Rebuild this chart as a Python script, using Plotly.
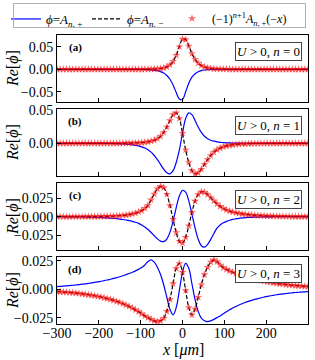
import plotly.graph_objects as go

# ---------------- data ----------------
x_um = [-300.0, -292.5, -285.0, -277.5, -270.0, -262.5, -255.0, -247.5, -240.0, -232.5,
        -225.0, -217.5, -210.0, -202.5, -195.0, -187.5, -180.0, -172.5, -165.0, -157.5,
        -150.0, -142.5, -135.0, -127.5, -120.0, -112.5, -105.0, -97.5, -90.0, -82.5,
        -75.0, -67.5, -60.0, -52.5, -45.0, -37.5, -30.0, -22.5, -15.0, -7.5,
        0.0, 7.5, 15.0, 22.5, 30.0, 37.5, 45.0, 52.5, 60.0, 67.5,
        75.0, 82.5, 90.0, 97.5, 105.0, 112.5, 120.0, 127.5, 135.0, 142.5,
        150.0, 157.5, 165.0, 172.5, 180.0, 187.5, 195.0, 202.5, 210.0, 217.5,
        225.0, 232.5, 240.0, 247.5, 255.0, 262.5, 270.0, 277.5, 285.0, 292.5, 300.0]

# n = 0
A0_plus = [0, 0, 0, 0, 0, 0, 0, 0, 0, 0,
           0, 0, 0, 0, 0, 0, 0, 0, 0, 0,
           0, 0, 0, 0, 0, -0.0001, -0.0002, -0.0003, -0.0004, -0.0007,
           -0.0011, -0.0019, -0.0031, -0.0051, -0.0084, -0.0138, -0.0222, -0.0350, -0.0516, -0.0660,
           -0.0670, -0.0501, -0.0310, -0.0176, -0.0098, -0.0054, -0.0030, -0.0016, -0.0009, -0.0005,
           -0.0003, -0.0001, -0.0001, 0, 0, 0, 0, 0, 0, 0,
           0, 0, 0, 0, 0, 0, 0, 0, 0, 0,
           0, 0, 0, 0, 0, 0, 0, 0, 0, 0, 0]
A0_minus = [0, 0, 0, 0, 0, 0, 0, 0, 0, 0,
            0, 0, 0, 0, 0, 0, 0, 0, 0, 0,
            0, 0, 0, 0, 0, 0, 0, 0, 0.0001, 0.0001,
            0.0003, 0.0005, 0.0009, 0.0016, 0.0030, 0.0054, 0.0098, 0.0176, 0.0310, 0.0501,
            0.0670, 0.0660, 0.0516, 0.0350, 0.0222, 0.0138, 0.0084, 0.0051, 0.0031, 0.0019,
            0.0011, 0.0007, 0.0004, 0.0003, 0.0002, 0.0001, 0, 0, 0, 0,
            0, 0, 0, 0, 0, 0, 0, 0, 0, 0,
            0, 0, 0, 0, 0, 0, 0, 0, 0, 0, 0]

# n = 1
A1_plus = [0, 0, 0, 0, 0, 0, 0, 0, 0, 0,
           0, -0.0001, -0.0001, -0.0001, -0.0002, -0.0002, -0.0003, -0.0003, -0.0004, -0.0006,
           -0.0008, -0.0010, -0.0013, -0.0017, -0.0023, -0.0030, -0.0039, -0.0053, -0.0071, -0.0097,
           -0.0133, -0.0183, -0.0245, -0.0317, -0.0389, -0.0443, -0.0459, -0.0411, -0.0288, -0.0100,
           0.0152, 0.0372, 0.0458, 0.0430, 0.0342, 0.0244, 0.0163, 0.0106, 0.0069, 0.0046,
           0.0032, 0.0022, 0.0015, 0.0011, 0.0007, 0.0005, 0.0003, 0.0002, 0.0002, 0.0001,
           0.0001, 0, 0, 0, 0, 0, 0, 0, 0, 0,
           0, 0, 0, 0, 0, 0, 0, 0, 0, 0, 0]
A1_minus = [0, 0, 0, 0, 0, 0, 0, 0, 0, 0,
            0, 0, 0, 0, 0, 0, 0, 0, 0, 0,
            0.0001, 0.0001, 0.0002, 0.0002, 0.0003, 0.0005, 0.0007, 0.0011, 0.0015, 0.0022,
            0.0032, 0.0046, 0.0069, 0.0106, 0.0163, 0.0244, 0.0342, 0.0430, 0.0458, 0.0372,
            0.0152, -0.0100, -0.0288, -0.0411, -0.0459, -0.0443, -0.0389, -0.0317, -0.0245, -0.0183,
            -0.0133, -0.0097, -0.0071, -0.0053, -0.0039, -0.0030, -0.0023, -0.0017, -0.0013, -0.0010,
            -0.0008, -0.0006, -0.0004, -0.0003, -0.0003, -0.0002, -0.0002, -0.0001, -0.0001, -0.0001,
            0, 0, 0, 0, 0, 0, 0, 0, 0, 0, 0]

# n = 2
A2_plus = [-0.0001, -0.0001, -0.0001, -0.0002, -0.0002, -0.0002, -0.0003, -0.0003, -0.0004, -0.0005,
           -0.0006, -0.0007, -0.0008, -0.0010, -0.0012, -0.0014, -0.0016, -0.0019, -0.0023, -0.0027,
           -0.0032, -0.0038, -0.0045, -0.0053, -0.0063, -0.0075, -0.0090, -0.0112, -0.0140, -0.0174,
           -0.0214, -0.0258, -0.0300, -0.0330, -0.0337, -0.0302, -0.0210, -0.0060, 0.0123, 0.0279,
           0.0356, 0.0332, 0.0214, 0.0036, -0.0151, -0.0303, -0.0392, -0.0411, -0.0375, -0.0306,
           -0.0227, -0.0154, -0.0112, -0.0083, -0.0064, -0.0048, -0.0037, -0.0029, -0.0022, -0.0017,
           -0.0013, -0.0010, -0.0008, -0.0006, -0.0005, -0.0004, -0.0003, -0.0002, -0.0002, -0.0001,
           -0.0001, -0.0001, 0, 0, 0, 0, 0, 0, 0, 0, 0]
A2_minus = [0, 0, 0, 0, 0, 0, 0, 0, 0, 0.0001,
            0.0001, 0.0001, 0.0002, 0.0002, 0.0003, 0.0004, 0.0005, 0.0006, 0.0008, 0.0010,
            0.0013, 0.0017, 0.0022, 0.0029, 0.0037, 0.0048, 0.0064, 0.0083, 0.0112, 0.0154,
            0.0227, 0.0306, 0.0375, 0.0411, 0.0392, 0.0303, 0.0151, -0.0036, -0.0214, -0.0332,
            -0.0356, -0.0279, -0.0123, 0.0060, 0.0210, 0.0302, 0.0337, 0.0330, 0.0300, 0.0258,
            0.0214, 0.0174, 0.0140, 0.0112, 0.0090, 0.0075, 0.0063, 0.0053, 0.0045, 0.0038,
            0.0032, 0.0027, 0.0023, 0.0019, 0.0016, 0.0014, 0.0012, 0.0010, 0.0008, 0.0007,
            0.0006, 0.0005, 0.0004, 0.0003, 0.0003, 0.0002, 0.0002, 0.0002, 0.0001, 0.0001, 0.0001]

# n = 3
A3_plus = [0.0024, 0.0026, 0.0028, 0.0031, 0.0033, 0.0036, 0.0038, 0.0041, 0.0045, 0.0048,
           0.0052, 0.0056, 0.0061, 0.0065, 0.0071, 0.0076, 0.0082, 0.0089, 0.0096, 0.0103,
           0.0111, 0.0120, 0.0130, 0.0140, 0.0151, 0.0163, 0.0176, 0.0192, 0.0215, 0.0245,
           0.0260, 0.0240, 0.0195, 0.0130, 0.0040, -0.0070, -0.0175, -0.0225, -0.0160, -0.0010,
           0.0150, 0.0228, 0.0185, 0.0050, -0.0090, -0.0195, -0.0255, -0.0278, -0.0285, -0.0278,
           -0.0265, -0.0250, -0.0235, -0.0216, -0.0197, -0.0181, -0.0165, -0.0151, -0.0139, -0.0127,
           -0.0116, -0.0106, -0.0097, -0.0089, -0.0082, -0.0075, -0.0068, -0.0063, -0.0057, -0.0053,
           -0.0048, -0.0044, -0.0040, -0.0037, -0.0034, -0.0031, -0.0028, -0.0026, -0.0024, -0.0022, -0.0020]
A3_minus = [-0.0020, -0.0022, -0.0024, -0.0026, -0.0028, -0.0031, -0.0034, -0.0037, -0.0040, -0.0044,
            -0.0048, -0.0053, -0.0057, -0.0063, -0.0068, -0.0075, -0.0082, -0.0089, -0.0097, -0.0106,
            -0.0116, -0.0127, -0.0139, -0.0151, -0.0165, -0.0181, -0.0197, -0.0216, -0.0235, -0.0250,
            -0.0265, -0.0278, -0.0285, -0.0278, -0.0255, -0.0195, -0.0090, 0.0050, 0.0185, 0.0228,
            0.0150, -0.0010, -0.0160, -0.0225, -0.0175, -0.0070, 0.0040, 0.0130, 0.0195, 0.0240,
            0.0260, 0.0245, 0.0215, 0.0192, 0.0176, 0.0163, 0.0151, 0.0140, 0.0130, 0.0120,
            0.0111, 0.0103, 0.0096, 0.0089, 0.0082, 0.0076, 0.0071, 0.0065, 0.0061, 0.0056,
            0.0052, 0.0048, 0.0045, 0.0041, 0.0038, 0.0036, 0.0033, 0.0031, 0.0028, 0.0026, 0.0024]

panel_letters = ["(a)", "(b)", "(c)", "(d)"]
mode_n = [0, 1, 2, 3]
x_ticks = [-300, -200, -100, 0, 100, 200, 300]
y_ticks = [[-0.05, 0.0, 0.05], [-0.05, 0.0, 0.05], [-0.025, 0.0, 0.025], [-0.025, 0.0, 0.025]]
y_ticktext = [["−0.05", "0.00", "0.05"], ["−0.05", "0.00", "0.05"],
              ["−0.025", "0.000", "0.025"], ["−0.025", "0.000", "0.025"]]
y_ranges = [[-0.0727, 0.0762], [-0.0491, 0.0515], [-0.0450, 0.0455], [-0.0306, 0.0285]]
legend_names = ["<i>ϕ</i>=<i>A</i><sub><i>n</i>, +</sub>",
                "<i>ϕ</i>=<i>A</i><sub><i>n</i>, −</sub>",
                "(−1)<sup><i>n</i>+1</sup><i>A</i><sub><i>n</i>, +</sub>(−<i>x</i>)"]

plus_series = [A0_plus, A1_plus, A2_plus, A3_plus]
minus_series = [A0_minus, A1_minus, A2_minus, A3_minus]

# ---------------- layout geometry ----------------
W, H = 315, 360
ml, mr, mt, mb = 57, 7, 35, 36
plot_w = W - ml - mr
plot_h = H - mt - mb
panel_px = [(35, 102), (109, 176), (183, 250), (257, 324)]

FONT = "Liberation Serif, Times New Roman, serif"


def px_x(px):
    return (px - ml) / plot_w


def px_y(py):
    return (H - mb - py) / plot_h


fig = go.Figure()

for k in range(4):
    ax = "" if k == 0 else str(k + 1)
    xa, ya = "x" + ax, "y" + ax
    show = (k == 0)
    fig.add_trace(go.Scatter(x=x_um, y=plus_series[k], mode="lines", xaxis=xa, yaxis=ya,
                             line=dict(color="#0000ff", width=1.2), line_shape="spline",
                             name=legend_names[0], showlegend=show, legend="legend"))
    fig.add_trace(go.Scatter(x=x_um, y=minus_series[k], mode="lines", xaxis=xa, yaxis=ya,
                             line=dict(color="black", width=1.2, dash="4px,2px"), line_shape="spline",
                             name=legend_names[1], showlegend=show, legend="legend2"))
    fig.add_trace(go.Scatter(x=x_um, y=minus_series[k], mode="markers", xaxis=xa, yaxis=ya,
                             marker=dict(symbol="star", size=6, color="rgba(255,0,0,0.6)",
                                         line=dict(width=0)),
                             name=legend_names[2], showlegend=show, legend="legend3"))


def make_legend(left_px, size):
    return dict(orientation="h", x=px_x(left_px), y=px_y(4),
                xanchor="left", yanchor="top",
                borderwidth=0, bgcolor="rgba(0,0,0,0)",
                font=dict(family=FONT, size=size), itemwidth=30)


layout = dict(
    width=W, height=H,
    margin=dict(l=ml, r=mr, t=mt, b=mb, autoexpand=False),
    plot_bgcolor="white", paper_bgcolor="white",
    font=dict(family=FONT, size=13, color="black"),
    showlegend=True,
    legend=make_legend(6, 13),
    legend2=make_legend(87, 13),
    legend3=make_legend(172, 12),
)

annotations = []
# legend frame (bordered empty annotation box)
annotations.append(dict(text=" ", xref="paper", yref="paper",
                        x=px_x(13), y=px_y(3), xanchor="left", yanchor="top",
                        width=291, height=23, borderpad=0, borderwidth=1,
                        bordercolor="#b0b0b0", bgcolor="rgba(0,0,0,0)", showarrow=False,
                        font=dict(family=FONT, size=10)))

for k in range(4):
    ax = "" if k == 0 else str(k + 1)
    top_px, bot_px = panel_px[k]
    dom = [px_y(bot_px), px_y(top_px)]
    layout["xaxis" + ax] = dict(
        domain=[0, 1], range=[-300, 300], anchor="y" + ax,
        tickvals=x_ticks, ticks="inside", ticklen=4, tickwidth=1, tickcolor="black",
        showticklabels=(k == 3), showline=True, mirror=True, linecolor="black", linewidth=1,
        showgrid=False, zeroline=False, tickfont=dict(size=14), ticklabelstandoff=-4,
        matches=None if k == 0 else "x",
    )
    layout["yaxis" + ax] = dict(
        domain=dom, range=y_ranges[k], anchor="x" + ax,
        tickvals=y_ticks[k], ticktext=y_ticktext[k],
        ticks="inside", ticklen=4, tickwidth=1, tickcolor="black",
        showline=True, mirror=True, linecolor="black", linewidth=1,
        showgrid=False, zeroline=False, tickfont=dict(size=14),
    )
    annotations.append(dict(text="<b>" + panel_letters[k] + "</b>", xref="paper", yref="paper",
                            x=px_x(75), y=px_y(top_px + 12.5),
                            xanchor="center", yanchor="middle", showarrow=False,
                            font=dict(family=FONT, size=11)))
    annotations.append(dict(text="<i>U</i> > 0, <i>n</i> = %d" % mode_n[k], xref="paper", yref="paper",
                            x=px_x(302), y=px_y(top_px + 7),
                            xanchor="right", yanchor="top", showarrow=False,
                            bordercolor="#444444", borderwidth=1, borderpad=1, bgcolor="white",
                            font=dict(family=FONT, size=13)))
    annotations.append(dict(text="<i>Re</i>[<i>ϕ</i>]", xref="paper", yref="paper",
                            x=px_x(12.5), y=px_y((top_px + bot_px) / 2),
                            xanchor="center", yanchor="middle", textangle=-90, showarrow=False,
                            font=dict(family=FONT, size=16)))

annotations.append(dict(text="<i>x</i> [<i>μm</i>]", xref="paper", yref="paper",
                        x=px_x(182.5), y=px_y(350),
                        xanchor="center", yanchor="middle", showarrow=False,
                        font=dict(family=FONT, size=16)))
layout["annotations"] = annotations

fig.update_layout(**layout)
fig.write_html("out.html", config={"displayModeBar": False},
               post_script="document.body.style.margin='0px';")
